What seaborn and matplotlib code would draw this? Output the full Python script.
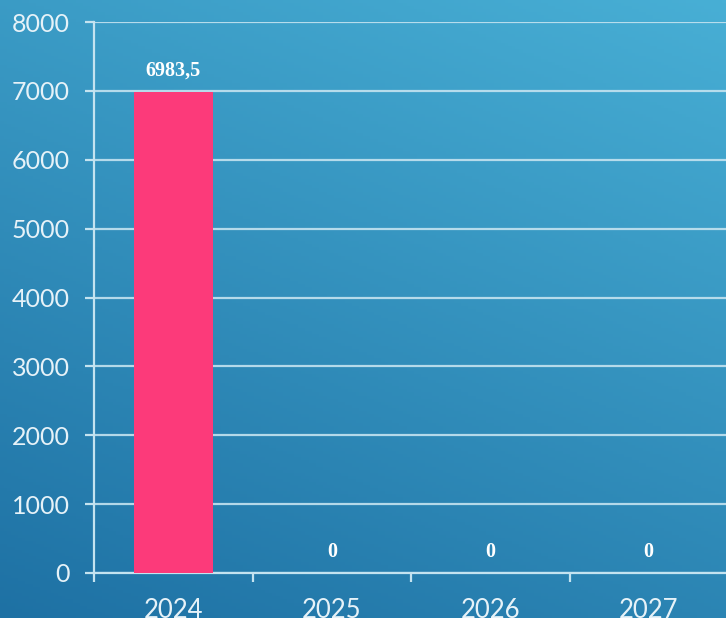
import numpy as np
import pandas as pd
import matplotlib
matplotlib.use("Agg")
import matplotlib.pyplot as plt
import seaborn as sns

years = ["2024", "2025", "2026", "2027"]
values = [6983.5, 0, 0, 0]
value_labels = ["6983,5", "0", "0", "0"]
yticks = [0, 1000, 2000, 3000, 4000, 5000, 6000, 7000, 8000]

sns.set_theme(style="white")
plt.rcParams['font.family'] = ['Lato', 'DejaVu Sans']

W, H = 726, 618
fig = plt.figure(figsize=(W / 100, H / 100), dpi=100)

# gradient background
bg = fig.add_axes([0, 0, 1, 1], zorder=-10)
yy, xx = np.mgrid[0:1:200j, 0:1:200j]  # yy: 0 top -> 1 bottom
t = np.clip((yy * 0.75 + (1 - xx) * 0.35) / 1.1, 0, 1)
c_top = np.array([72, 175, 213]) / 255
c_bot = np.array([30, 113, 164]) / 255
img = c_top[None, None, :] * (1 - t[..., None]) + c_bot[None, None, :] * t[..., None]
bg.imshow(img, aspect='auto', extent=[0, 1, 0, 1], origin='upper')
bg.axis('off')

left = 94 / W
bottom = 1 - 573 / H
top = 1 - 22 / H
right = 728 / W
ax = fig.add_axes([left, bottom, right - left, top - bottom])
ax.patch.set_alpha(0)

df = pd.DataFrame({"year": years, "value": values})
sns.barplot(data=df, x="year", y="value", order=years, color="#fc3a7a",
            saturation=1, width=0.5, ax=ax, zorder=3, linewidth=0,
            edgecolor="none")

grid_col = "#c4e3f0"
ax.set_ylim(0, 8000)
ax.set_xlim(-0.5, 3.5)
ax.set_yticks(yticks)
ax.set_yticklabels([str(v) for v in yticks])
ax.yaxis.grid(True, color=grid_col, linewidth=1.6, alpha=0.9, zorder=0)
ax.set_axisbelow(True)

ax.set_xticks(range(len(years)))
ax.set_xticklabels(years)
ax.set_xticks([-0.5, 0.5, 1.5, 2.5, 3.5], minor=True)
ax.tick_params(axis='x', which='major', length=0, pad=18, labelsize=18.5,
               labelcolor="#e6f2f8")
ax.tick_params(axis='x', which='minor', length=6.5, width=1.6, color=grid_col,
               direction='out', bottom=True)
ax.tick_params(axis='y', which='major', length=6.5, width=1.6, color=grid_col,
               pad=11, labelsize=18, labelcolor="#e6f2f8", left=True)

for s in ['top', 'right']:
    ax.spines[s].set_visible(False)
ax.spines['left'].set_color(grid_col)
ax.spines['left'].set_linewidth(1.6)
ax.spines['bottom'].set_color(grid_col)
ax.spines['bottom'].set_linewidth(1.6)
ax.set_xlabel("")
ax.set_ylabel("")

ax.bar_label(ax.containers[0], labels=value_labels, padding=8,
             color="white", fontsize=14.5, fontweight='bold',
             family=['Liberation Serif', 'DejaVu Serif'])

fig.savefig("out.png", dpi=100)
